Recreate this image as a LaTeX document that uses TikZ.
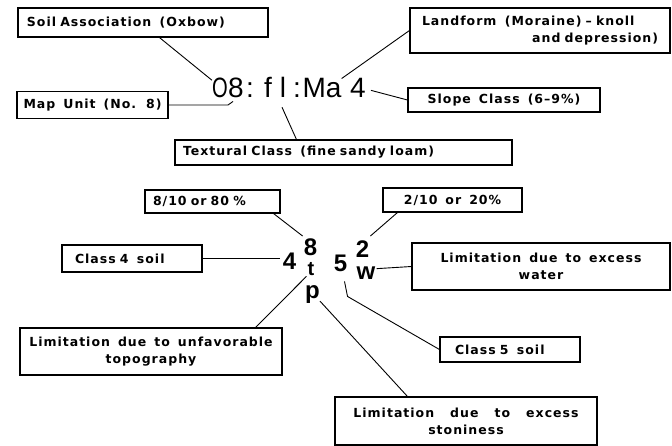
\documentclass[tikz,border=0pt]{standalone}
\usepackage{fontspec}
\usepackage{graphicx}
\setmainfont{Liberation Sans}
\newfontfamily\lblfam[LetterSpace=8,WordSpace=1.5]{DejaVu Sans}
\usetikzlibrary{calc}
\newcommand\lblfont{\lblfam\bfseries\fontsize{12.5}{17}\selectfont}
\newcommand\codefont{\fontsize{28}{30}\selectfont}
\newcommand\symfont{\bfseries\fontsize{24}{26}\selectfont}
\newcommand\narrow[1]{\scalebox{0.72}[1]{#1}}
\tikzset{
  lbl/.style={draw,line width=1.1pt,inner sep=0pt,font=\lblfont,align=center},
  lead/.style={line width=0.9pt},
  codech/.style={inner sep=0pt,anchor=base,font=\codefont},
  symch/.style={inner sep=0pt,anchor=base,font=\symfont}
}

\begin{document}
\begin{tikzpicture}[x=1pt,y=-1pt]
  \useasboundingbox (0,0) rectangle (672,446);
  % map symbol
  \node[codech] (cO) at (220,98) {\narrow{O}};
  \node[codech] (c8) at (236,98) {8};
  \node[codech] (cc1) at (250,98) {:};
  \node[codech] (cf) at (268,98) {f};
  \node[codech] (cl) at (283,98) {l};
  \node[codech] (cc2) at (297,98) {:};
  \node[codech] (cMa) at (322,98) {Ma};
  \node[codech] (c4) at (358,98) {4};
  % capability symbol
  \node[symch] (l4) at (289.5,270) {4};
  \node[symch] (l8) at (310.5,256) {8};
  \node[symch,font=\bfseries\fontsize{20}{24}\selectfont] (lt) at (311,276) {t};
  \node[symch] (lp) at (312.5,299) {p};
  \node[symch] (l5) at (340.5,272) {5};
  \node[symch] (l2) at (362.5,258) {2};
  \node[symch] (lw) at (366,280) {w};
  % labels
  \node[lbl,minimum width=250pt,minimum height=29pt,text width=232pt,align=left] (soil) at (143,22.5) {Soil Association\ \ (Oxbow)};
  \node[lbl,minimum width=151pt,minimum height=27pt] (mapunit) at (92.5,105) {Map Unit (No. 8)};
  \node[lbl,minimum width=260pt,minimum height=45pt,text width=236pt,align=left] (landform) at (540,30.5) {Landform\ \ (Moraine) – knoll\\\hspace*{\fill}and depression)};
  \node[lbl,minimum width=192pt,minimum height=24pt] (slope) at (504,100) {Slope Class (6–9\%)};
  \node[lbl,minimum width=337pt,minimum height=25pt,text width=321pt,align=left] (textural) at (343.5,152.5) {Textural Class\ \ (fine sandy loam)};
  \node[lbl,minimum width=135pt,minimum height=23pt,text width=119pt,align=left] (frac8) at (212.5,201.5) {8/10 or 80 \%};
  \node[lbl,minimum width=139pt,minimum height=24pt] (frac2) at (452.5,200) {2/10 or 20\%};
  \node[lbl,minimum width=140pt,minimum height=27pt,text width=114pt,align=left] (class4) at (132,258.5) {Class 4\ \ soil};
  \node[lbl,minimum width=258pt,minimum height=47pt] (water) at (541,266.5) {Limitation due to excess\\water};
  \node[lbl,minimum width=262pt,minimum height=47pt] (topo) at (151,351.5) {Limitation due to unfavorable\\topography};
  \node[lbl,minimum width=140pt,minimum height=25pt,text width=110pt,align=left] (class5) at (510,349.5) {Class 5\ \ soil};
  \node[lbl,minimum width=262pt,minimum height=48pt] (stony) at (466,421) {Limitation\ \ due\ \ to\ \ excess\\stoniness};
  % leaders
  \draw[lead] ($(soil.south west)+(142,0)$) -- ($(cO.north west)+(0,2)$);
  \draw[lead] (mapunit.east) -- ($(mapunit.east -| c8.south)+(-8,0)$) -- ($(c8.south)+(-3,3)$);
  \draw[lead] ($(cl.south)+(-1,9)$) -- ($(textural.north west)+(122,0)$);
  \draw[lead] (cMa.north east) -- (landform.west);
  \draw[lead] ($(c4.east)+(5,2)$) -- (slope.west);
  \draw[lead] ($(frac8.south east)+(-7,0)$) -- ($(l8.north west)+(-1,-3)$);
  \draw[lead] ($(frac2.south west)+(15,0)$) -- ($(l2.north east)+(1,-5)$);
  \draw[lead] (class4.east) -- ($(class4.east -| l4.west)+(-3,0)$);
  \draw[lead] ($(lw.east)+(1,-5)$) -- (water.west);
  \draw[lead] ($(l5.south)+(4,9)$) -- ($(l5.south)+(7,24)$) -- (class5.west);
  \draw[lead] ($(lt.south west)+(-1,0)$) -- ($(topo.north east)+(-27,0)$);
  \draw[lead] ($(lp.south east)+(0,-3)$) -- ($(stony.north west)+(73,0)$);
\end{tikzpicture}
\end{document}
